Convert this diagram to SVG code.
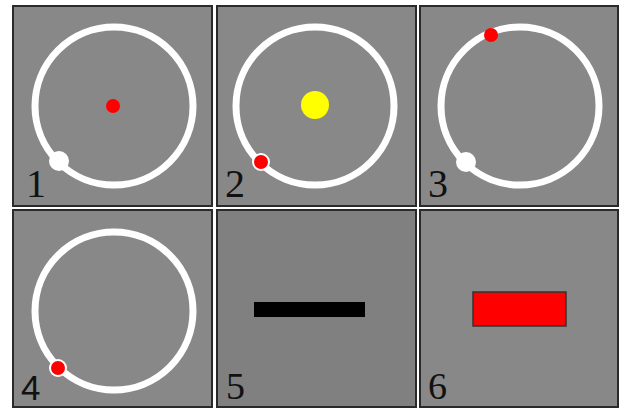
<svg xmlns="http://www.w3.org/2000/svg" width="619" height="408" viewBox="0 0 619 408">
<style>
.panel{fill:#888888;stroke:#2a2a2a;stroke-width:2}
.ring{fill:none;stroke:#ffffff;stroke-width:7}
.red{fill:#ff0000}
.redr{fill:#ff0000;stroke:#ffffff;stroke-width:2}
.white{fill:#ffffff}
.serif{font-family:"Liberation Serif","Times New Roman",serif;font-size:40px;fill:#111}
.serifb{font-family:"Liberation Serif","Times New Roman",serif;font-size:38px;fill:#111}
.sans{font-family:"Liberation Sans",Arial,sans-serif;font-size:35px;fill:#111}
</style>
<rect x="0" y="0" width="619" height="408" fill="#ffffff"/>
<g id="p1">
<rect class="panel" x="13" y="6" width="199" height="200"/>
<circle class="ring" cx="114" cy="106" r="79"/>
<circle class="red" cx="113" cy="106" r="7"/>
<circle class="white" cx="59" cy="161" r="10"/>
<text class="serif" x="26" y="197">1</text>
</g>
<g id="p2">
<rect class="panel" x="217" y="6" width="199" height="200"/>
<circle class="ring" cx="315" cy="106" r="79"/>
<circle fill="#ffff00" cx="315" cy="105" r="14"/>
<circle class="redr" cx="261" cy="162" r="8"/>
<text class="serif" x="225" y="197">2</text>
</g>
<g id="p3">
<rect class="panel" x="420" y="6" width="198" height="200"/>
<circle class="ring" cx="520" cy="106" r="79"/>
<circle class="red" cx="491" cy="35" r="7"/>
<circle class="white" cx="466" cy="162" r="10"/>
<text class="serif" x="428" y="197">3</text>
</g>
<g id="p4">
<rect class="panel" x="13" y="210" width="199" height="197"/>
<circle class="ring" cx="114" cy="311" r="79"/>
<circle class="redr" cx="58" cy="368" r="8"/>
<text class="sans" x="21" y="400">4</text>
</g>
<g id="p5">
<rect class="panel" x="217" y="210" width="199" height="197" style="fill:#808080"/>
<rect x="254" y="302" width="111" height="15" fill="#000000"/>
<text class="serifb" x="226" y="399">5</text>
</g>
<g id="p6">
<rect class="panel" x="420" y="210" width="198" height="197"/>
<rect x="473" y="292" width="93" height="34" fill="#ff0000" stroke="#333333" stroke-width="1.5"/>
<text class="serifb" x="428" y="399">6</text>
</g>
</svg>
